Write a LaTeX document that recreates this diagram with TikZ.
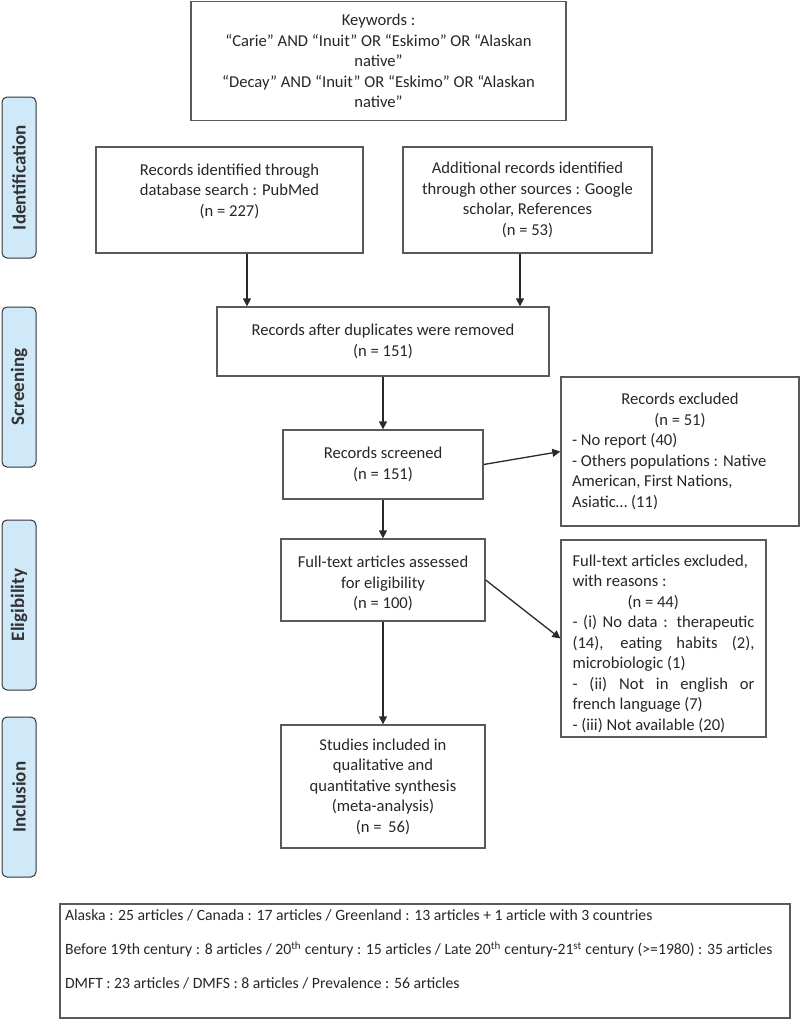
\documentclass[tikz,border=0pt]{standalone}
\usepackage{fontspec}
\setmainfont{Carlito}
\usetikzlibrary{arrows.meta,calc}
\definecolor{boxline}{HTML}{5A5A5A}
\definecolor{arrline}{HTML}{2A2A2A}
\definecolor{sidefill}{HTML}{CFE9F9}
\definecolor{sidetext}{HTML}{333333}
\begin{document}
\begin{tikzpicture}[x=1pt,y=-1pt,
  box/.style={draw=boxline, line width=1.3pt, rectangle, inner sep=0pt, align=center,
    text=black!85, font=\fontsize{16.6}{20.5}\selectfont},
  sidebox/.style={draw=sidetext, fill=sidefill, rounded corners=5pt, line width=1pt,
    inner sep=0pt, rotate=90, text=sidetext, font=\fontsize{19}{22}\selectfont\bfseries},
  arr/.style={draw=arrline, line width=1.3pt, -{Triangle[length=8pt,width=8pt]}}]
\useasboundingbox (0,0) rectangle (800,1025);

% side labels
\node[sidebox, minimum width=161pt, minimum height=34pt] (sid1) at (19,177.5) {Identification};
\node[sidebox, minimum width=160pt, minimum height=34pt] (sid2) at (19,387) {Screening};
\node[sidebox, minimum width=170pt, minimum height=34pt] (sid3) at (19,605) {Eligibility};
\node[sidebox, minimum width=160pt, minimum height=34pt] (sid4) at (19,797) {Inclusion};

% main boxes
\node[box, minimum width=375pt, minimum height=119pt] (kw) at (378.5,61)
  {Keywords :\\ “Carie” AND “Inuit” OR “Eskimo” OR “Alaskan\\ native”\\ “Decay” AND “Inuit” OR “Eskimo” OR “Alaskan\\ native”};
\node[box, minimum width=267pt, minimum height=106pt] (rid) at (229.5,200)
  {Records identified through\\ database search : PubMed\\ (n = 227)\\ \mbox{}};
\node[box, minimum width=249pt, minimum height=106pt] (add) at (527.5,200)
  {Additional records identified\\ through other sources : Google\\ scholar, References\\ (n = 53)};
\node[box, minimum width=332pt, minimum height=69pt] (dup) at (383,341.5)
  {Records after duplicates were removed\\ (n = 151)};
\node[box, minimum width=200pt, minimum height=69pt] (scr) at (383,464.5)
  {Records screened\\ (n = 151)};
\node[box, minimum width=238pt, minimum height=149pt] (exc) at (680,451.5)
  {\parbox{216pt}{\centering Records excluded\\ (n = 51)\par\raggedright
   - No report (40)\\ - Others populations : Native\\ American, First Nations,\\ Asiatic… (11)}};
\node[box, minimum width=204pt, minimum height=82pt] (fta) at (383,580)
  {\parbox{200pt}{\centering\vspace*{7pt}Full-text articles assessed\\ for eligibility\\ (n = 100)}};
\node[box, minimum width=205pt, minimum height=197pt] (fte) at (663.5,638.5)
  {\parbox{182pt}{\vspace*{10pt}Full-text articles excluded,\\ with reasons :\\ \hspace*{55pt}(n = 44)\\
   \makebox[\linewidth][s]{- (i) No data : therapeutic}\\
   \makebox[\linewidth][s]{(14), eating habits (2),}\\
   microbiologic (1)\\
   \makebox[\linewidth][s]{- (ii) Not in english or}\\
   french language (7)\\
   - (iii) Not available (20)}};
\node[box, minimum width=204pt, minimum height=123pt] (stu) at (383,786.5)
  {Studies included in\\ qualitative and\\ quantitative synthesis\\ (meta-analysis)\\ (n = \,56)};
\node[box, minimum width=730pt, minimum height=114pt, align=left,
  font=\fontsize{15.7}{20.5}\selectfont] (bot) at (425,961)
  {\parbox{720pt}{Alaska : 25 articles / Canada : 17 articles / Greenland : 13 articles + 1 article with 3 countries\\[13.5pt]
   Before 19th century : 8 articles / 20\textsuperscript{th} century : 15 articles / Late 20\textsuperscript{th} century-21\textsuperscript{st} century (>=1980) : 35 articles\\[13.5pt]
   DMFT : 23 articles / DMFS : 8 articles / Prevalence : 56 articles\\[2.5pt]\mbox{}}};

% connectors
\coordinate (ax) at (247,0);
\coordinate (bx) at (520,0);
\draw[arr] (rid.south -| ax) -- (dup.north -| ax);
\draw[arr] (add.south -| bx) -- (dup.north -| bx);
\draw[arr] (dup.south) -- (scr.north);
\draw[arr] (scr.east) -- (exc.west);
\draw[arr] (scr.south) -- (fta.north);
\draw[arr] (fta.east) -- (fte.west);
\draw[arr] (fta.south) -- (stu.north);
\end{tikzpicture}
\end{document}
